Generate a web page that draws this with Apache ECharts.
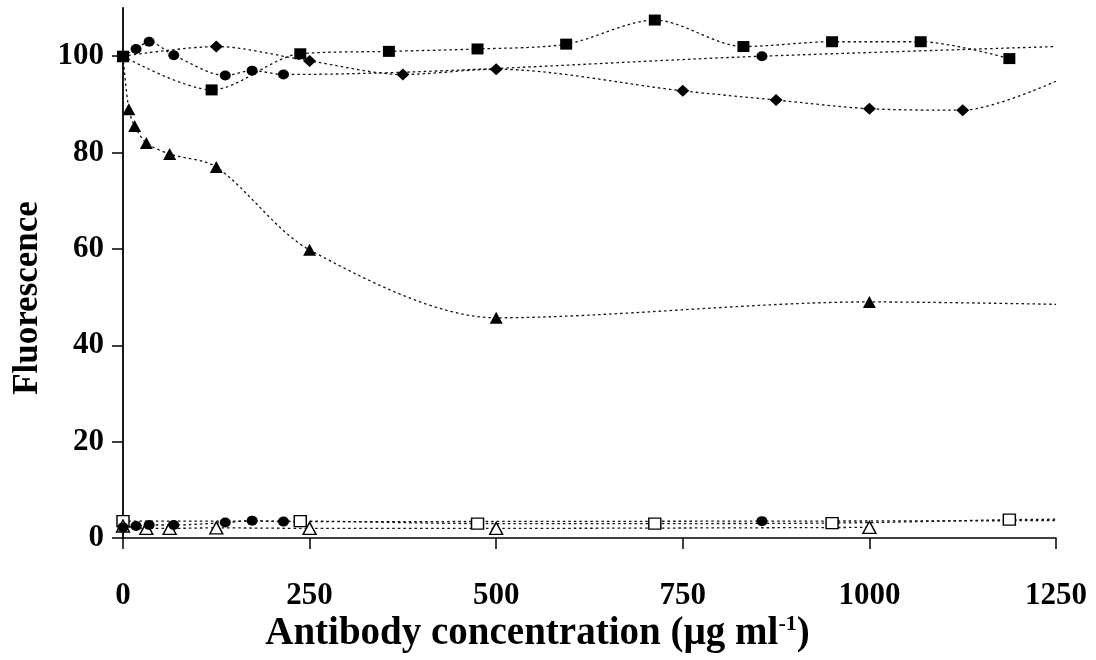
<!DOCTYPE html>
<html>
<head>
<meta charset="utf-8">
<script src="https://cdn.jsdelivr.net/npm/echarts@6/dist/echarts.min.js"></script>
<style>
  html, body { margin: 0; padding: 0; background: #fff; }
  #chart { width: 1096px; height: 660px; }
</style>
</head>
<body>
<div id="chart"></div>
<script>
// Antibody concentration (µg/ml) and fluorescence readings per series.
// Each curve is drawn on to the right edge (1250) where its fitted line ends.
const squareX = [0, 118.75, 237.5, 356.25, 475, 593.75, 712.5, 831.25, 950, 1068.75, 1187.5];
const squareY = [100, 93, 100.5, 101, 101.5, 102.5, 107.5, 102, 103, 103, 99.5];

const diamondX = [0, 125, 250, 375, 500, 750, 875, 1000, 1125];
const diamondY = [100, 102, 99, 96.2, 97.3, 92.8, 90.9, 89.1, 88.8];
const diamondEnd = 94.8;

const circleX = [0, 17.5, 35, 68, 137, 173, 215, 856];
const circleY = [100, 101.5, 103, 100.2, 96, 97, 96.2, 100];
const circleEnd = 102;

const triangleX = [0, 7.8, 15.6, 31.25, 62.5, 125, 250, 500, 1000];
const triangleY = [100, 89, 85.5, 82, 79.7, 77, 59.8, 45.7, 49];
const triangleEnd = 48.5;

const openSquareX = [0, 237.5, 475, 712.5, 950, 1187.5];
const openSquareY = [3.5, 3.5, 3, 3, 3.1, 3.8];
const openSquareEnd = 3.9;

const openTriangleX = [0, 31.25, 62.5, 125, 250, 500, 1000];
const openTriangleY = [2.5, 2, 2, 2.1, 2, 2, 2.2];

const lowCircleX = [0, 17.5, 35, 68, 137, 173, 215, 856];
const lowCircleY = [2.2, 2.5, 2.7, 2.7, 3.2, 3.6, 3.4, 3.5];
const lowCircleEnd = 3.6;

const xTicks = [0, 250, 500, 750, 1000, 1250];
const yTicks = [0, 20, 40, 60, 80, 100];

const FONT = '"Liberation Serif", "Times New Roman", serif';
const INK = '#000';

function points(xs, ys, end) {
  const pts = xs.map((x, i) => [x, ys[i]]);
  if (end !== undefined) pts.push({ value: [1250, end], symbol: 'none' });
  return pts;
}

function curve(name, xs, ys, end, symbol, size, hollow) {
  return {
    name: name,
    type: 'line',
    data: points(xs, ys, end),
    smooth: 0.3,
    symbol: symbol,
    symbolSize: size,
    showSymbol: true,
    clip: false,
    lineStyle: { color: '#111', width: 1.3, type: [2.5, 3] },
    itemStyle: hollow
      ? { color: '#fff', borderColor: INK, borderWidth: 1.4 }
      : { color: INK, borderWidth: 0 },
    emphasis: { disabled: true },
    animation: false
  };
}

const chart = echarts.init(document.getElementById('chart'), null, { renderer: 'canvas' });

chart.setOption({
  backgroundColor: '#fff',
  animation: false,
  grid: { left: 123, right: 40, top: 8, bottom: 122, containLabel: false, outerBoundsMode: 'none' },
  xAxis: {
    type: 'value',
    min: 0, max: 1250, interval: 250,
    name: 'Antibody concentration ({b|µg} ml{s|-1})',
    nameLocation: 'middle',
    nameGap: 75,
    nameMoveOverlap: false,
    nameTextStyle: {
      fontFamily: FONT, fontWeight: 'bold', fontSize: 39, color: INK,
      padding: [0, 104, 0, 0],
      rich: {
        b: { fontFamily: FONT, fontWeight: 'bold', fontSize: 39, color: INK },
        s: { fontFamily: FONT, fontWeight: 'bold', fontSize: 22, color: INK, verticalAlign: 'top', padding: [0, 0, 20, 0] }
      }
    },
    axisLine: { show: true, onZero: false, lineStyle: { color: INK, width: 1.5 } },
    axisTick: { show: true, inside: false, length: 11, lineStyle: { color: INK, width: 1.5 }, customValues: xTicks },
    axisLabel: {
      margin: 42, fontFamily: FONT, fontWeight: 'bold', fontSize: 31, color: INK,
      customValues: xTicks,
      formatter: v => String(v)
    },
    splitLine: { show: false }
  },
  yAxis: {
    type: 'value',
    min: 0, max: 110, interval: 20,
    name: 'Fluorescence',
    nameLocation: 'middle',
    nameGap: 78,
    nameMoveOverlap: false,
    nameRotate: 90,
    nameTextStyle: { fontFamily: FONT, fontWeight: 'bold', fontSize: 35, color: INK, padding: [0, 50, 0, 0] },
    axisLine: { show: true, onZero: false, lineStyle: { color: INK, width: 1.8 } },
    axisTick: { show: true, inside: false, length: 11, lineStyle: { color: INK, width: 1.5 }, customValues: yTicks },
    axisLabel: {
      margin: 19, fontFamily: FONT, fontWeight: 'bold', fontSize: 31, color: INK,
      customValues: yTicks,
      formatter: v => String(v)
    },
    splitLine: { show: false }
  },
  series: [
    curve('Open square', openSquareX, openSquareY, openSquareEnd, 'rect', [12, 11], true),
    curve('Open triangle', openTriangleX, openTriangleY, undefined, 'triangle', [13, 12], true),
    curve('Low circle', lowCircleX, lowCircleY, lowCircleEnd, 'circle', [11, 10], false),
    curve('Triangle', triangleX, triangleY, triangleEnd, 'triangle', [13, 12], false),
    curve('Diamond', diamondX, diamondY, diamondEnd, 'diamond', [13, 12], false),
    curve('Circle', circleX, circleY, circleEnd, 'circle', [11, 10], false),
    curve('Square', squareX, squareY, undefined, 'rect', [12, 11], false)
  ]
});
</script>
</body>
</html>
